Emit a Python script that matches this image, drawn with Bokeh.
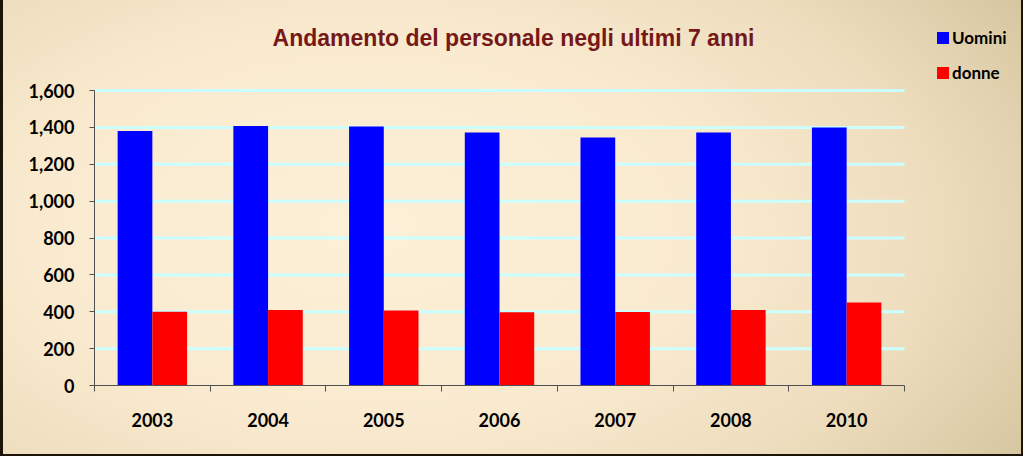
from bokeh.plotting import figure
from bokeh.models import (Range1d, FixedTicker, NumeralTickFormatter, CustomJSTickFormatter,
                          Label, Legend, LegendItem, ColumnDataSource)
from bokeh.embed import file_html
from bokeh.resources import INLINE

# ---- data ----
years = ["2003", "2004", "2005", "2006", "2007", "2008", "2010"]
uomini = [1380, 1408, 1405, 1372, 1345, 1372, 1400]
donne = [400, 410, 407, 397, 398, 410, 450]
y_ticks = [0, 200, 400, 600, 800, 1000, 1200, 1400, 1600]
title_text = "Andamento del personale negli ultimi 7 anni"
series_names = ["Uomini", "donne"]
series_colors = ["#0000ff", "#ff0000"]

# ---- layout (pixels) ----
W, H = 1023, 456
AX_LEFT, AX_RIGHT, AX_TOP, AX_BOTTOM = 94, 904, 90, 385   # plot area of the chart
n = len(years)
ymax = y_ticks[-1]
ppx = (AX_RIGHT - AX_LEFT) / n          # pixels per category
ppy = (AX_BOTTOM - AX_TOP) / ymax       # pixels per unit

def px_to_x(px):
    return (px - AX_LEFT) / ppx

def py_to_y(py):
    return (AX_BOTTOM - py) / ppy

# frame extends to top and right edges so that title/legend are inside it
x_end = px_to_x(W)
y_end = py_to_y(0)

p = figure(width=W, height=H, output_backend="svg", toolbar_location=None, title=None,
           x_range=Range1d(0, x_end), y_range=Range1d(0, y_end),
           min_border_left=AX_LEFT, min_border_right=0,
           min_border_top=0, min_border_bottom=H - AX_BOTTOM)
p.styles = {
    "background": "radial-gradient(ellipse 75% 95% at 36% 50%, #fdf0d8 0%, #f9eacf 45%, #eddcbc 75%, #d6c6a0 100%)",
    "box-shadow": "inset 3px 0 0 #1c1408, inset -2px -2px 0 #1c1408",
}
p.border_fill_color = None
p.background_fill_color = None
p.outline_line_color = None

centers = [i + 0.5 for i in range(n)]

# grid lines (only across the category area)
p.xgrid.visible = False
p.ygrid.visible = False
grid_y = [t for t in y_ticks if t > 0]
p.segment(x0=[0] * len(grid_y), x1=[n] * len(grid_y), y0=grid_y, y1=grid_y,
          line_color="#ccffff", line_width=3, level="underlay")

src = ColumnDataSource(dict(
    xu=[c - 0.15 for c in centers],
    xd=[c + 0.15 for c in centers],
    u=uomini, d=donne))

r1 = p.vbar(x="xu", top="u", bottom=0, width=0.3, source=src,
            fill_color=series_colors[0], line_color=None)
r2 = p.vbar(x="xd", top="d", bottom=0, width=0.3, source=src,
            fill_color=series_colors[1], line_color=None)

# y axis
ya = p.yaxis[0]
ya.bounds = (0, ymax)
ya.ticker = FixedTicker(ticks=y_ticks)
ya.formatter = NumeralTickFormatter(format="0,0")
ya.axis_line_color = "#505050"
ya.major_tick_line_color = "#505050"
ya.major_tick_out = 5
ya.major_tick_in = 0
ya.minor_tick_line_color = None
ya.major_label_standoff = 15
ya.major_label_text_font = "Lato"
ya.major_label_text_font_style = "bold"
ya.major_label_text_font_size = "18px"
ya.major_label_text_color = "#000000"

# x axis
xa = p.xaxis[0]
xa.bounds = (0, n)
xa.ticker = FixedTicker(ticks=centers, minor_ticks=list(range(n + 1)))
xa.formatter = CustomJSTickFormatter(args=dict(labels=years),
                                     code="return labels[Math.round(tick - 0.5)] || ''")
xa.axis_line_color = "#505050"
xa.major_tick_line_color = None
xa.major_tick_out = 0
xa.major_tick_in = 0
xa.minor_tick_line_color = "#505050"
xa.minor_tick_out = 6
xa.minor_tick_in = 0
xa.major_label_standoff = 21
xa.major_label_text_font = "Lato"
xa.major_label_text_font_style = "bold"
xa.major_label_text_font_size = "18px"
xa.major_label_text_color = "#000000"

# title
p.add_layout(Label(x=px_to_x(513), y=py_to_y(37), text=title_text,
                   text_align="center", text_baseline="alphabetic",
                   text_font="Liberation Sans", text_font_style="bold",
                   text_font_size="23px", text_color="#761818"))

# legend
legend = Legend(items=[LegendItem(label=series_names[0], renderers=[r1]),
                       LegendItem(label=series_names[1], renderers=[r2])],
                location=(841, 302), padding=0, margin=0, spacing=14,
                glyph_width=15, glyph_height=15, label_height=20,
                label_standoff=2, border_line_color=None,
                background_fill_alpha=0,
                label_text_font="Lato", label_text_font_style="bold",
                label_text_font_size="17px", label_text_color="#000000")
p.add_layout(legend, "center")

open("out.html", "w").write(file_html(p, INLINE))
